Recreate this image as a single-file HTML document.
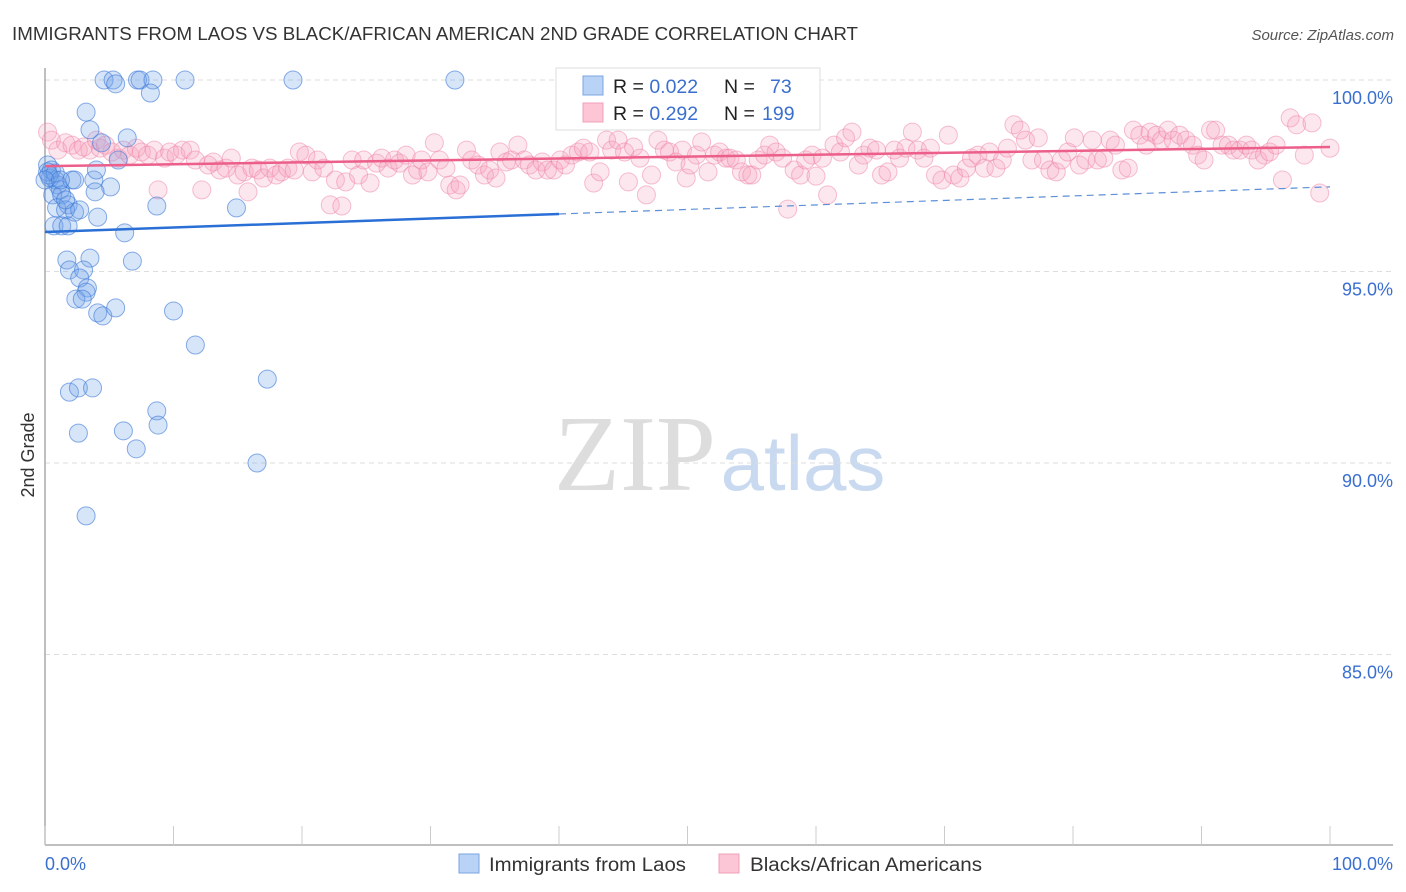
<!DOCTYPE html>
<html><head><meta charset="utf-8"><style>
body{margin:0;background:#fff;font-family:"Liberation Sans",sans-serif;}
svg{display:block}
</style></head><body>
<svg width="1406" height="892" viewBox="0 0 1406 892">
<text x="12" y="40" font-size="18" fill="#333" textLength="846" lengthAdjust="spacingAndGlyphs">IMMIGRANTS FROM LAOS VS BLACK/AFRICAN AMERICAN 2ND GRADE CORRELATION CHART</text>
<text x="1394" y="40" font-size="15" fill="#555" font-style="italic" text-anchor="end">Source: ZipAtlas.com</text>
<g>
<text x="635" y="490" font-size="108" font-family="Liberation Serif, serif" fill="#ddd" text-anchor="middle">ZIP</text>
<text x="803" y="490" font-size="78" fill="#c9daf0" text-anchor="middle">atlas</text>
</g>
<g id="grid"></g>
<g id="axes"></g>
<g id="marks"></g>
<text transform="translate(34,455) rotate(-90)" font-size="18" fill="#333" text-anchor="middle">2nd Grade</text>
<g>
<rect x="556" y="68" width="264" height="62" fill="#fff" stroke="#ddd"/>
<rect x="583" y="76" width="20" height="19" fill="#b8d3f5" stroke="#7aa6e0"/>
<rect x="583" y="103" width="20" height="19" fill="#fcc6d6" stroke="#f0a0b8"/>
<text x="613" y="93" font-size="19.5" fill="#222">R = <tspan fill="#3a6fd0">0.022</tspan><tspan x="724">N = </tspan><tspan x="770" fill="#3a6fd0">73</tspan></text>
<text x="613" y="120" font-size="19.5" fill="#222">R = <tspan fill="#3a6fd0">0.292</tspan><tspan x="724">N = </tspan><tspan x="762" fill="#3a6fd0">199</tspan></text>
</g>
<g>
<rect x="459" y="854" width="20" height="19" fill="#b8d3f5" stroke="#7aa6e0"/>
<text x="489" y="871" font-size="19" fill="#333" textLength="197" lengthAdjust="spacingAndGlyphs">Immigrants from Laos</text>
<rect x="719" y="854" width="20" height="19" fill="#fcc6d6" stroke="#f0a0b8"/>
<text x="750" y="871" font-size="19" fill="#333" textLength="232" lengthAdjust="spacingAndGlyphs">Blacks/African Americans</text>
</g>
</svg>
<script>
const yTicks=[100,95,90,85];
const yTickLabels=["100.0%","95.0%","90.0%","85.0%"];
const xTicks=[0,10,20,30,40,50,60,70,80,90,100];
const xEndLabels=["0.0%","100.0%"];
const blueTrend=[96.03,97.21];
const pinkTrend=[97.75,98.25];
const bluePoints=[[4.6,100],[5.3,100],[5.5,99.9],[7.2,100],[7.4,100],[8.4,100],[8.2,99.66],[10.9,100],[19.3,100],[31.9,100],[3.2,99.16],[3.5,98.7],[6.4,98.49],[4.4,98.36],[5.7,97.91],[0.2,97.78],[0.5,97.65],[0.4,97.44],[0.8,97.39],[1.0,97.26],[1.2,97.13],[2.1,97.39],[2.3,97.39],[3.8,97.39],[5.1,97.21],[4.0,97.65],[0.6,97.0],[1.3,97.0],[1.8,96.74],[0.9,96.66],[1.6,96.61],[2.3,96.55],[4.1,96.42],[8.7,96.71],[14.9,96.66],[0.7,96.19],[1.3,96.19],[1.8,96.19],[6.2,96.01],[1.7,95.3],[3.5,95.35],[6.8,95.27],[1.9,95.04],[3.0,95.04],[2.7,94.83],[3.3,94.57],[3.2,94.46],[2.4,94.28],[2.9,94.28],[4.1,93.92],[4.5,93.84],[5.5,94.05],[10.0,93.97],[11.7,93.08],[1.9,91.85],[2.6,91.96],[3.7,91.96],[17.3,92.19],[2.6,90.78],[6.1,90.84],[8.7,91.36],[8.8,90.99],[7.1,90.37],[16.5,90.0],[3.2,88.62],[0.2,97.6],[0.3,97.52],[0.8,97.57],[0.0,97.39],[1.2,97.39],[1.6,96.87],[3.9,97.08],[2.7,96.61]];
const pinkX=[0.2,0.5,1.0,1.6,2.1,2.6,3.0,3.5,4.0,4.3,4.7,5.2,5.7,6.1,6.6,7.1,7.5,8.0,8.5,8.8,9.3,9.7,10.2,10.7,11.3,11.7,12.2,12.7,13.1,13.6,14.1,14.5,15.0,15.5,15.8,16.1,16.6,17.0,17.5,18.0,18.4,18.9,19.4,19.8,20.3,20.8,21.2,21.7,22.2,22.6,23.1,23.4,23.9,24.4,24.8,25.3,25.8,26.2,26.7,27.2,27.6,28.1,28.6,29.0,29.3,29.8,30.3,30.7,31.2,31.5,32.0,32.3,32.8,33.2,33.7,34.2,34.6,35.1,35.4,35.9,36.3,36.8,37.3,37.7,38.2,38.7,39.1,39.6,40.1,40.5,41.0,41.5,41.9,42.4,42.7,43.2,43.7,44.1,44.6,45.1,45.4,45.8,46.3,46.8,47.2,47.7,48.2,48.6,49.1,49.6,49.9,50.2,50.7,51.1,51.6,52.1,52.5,53.0,53.3,53.8,54.2,54.7,55.0,55.5,56.0,56.4,56.9,57.4,57.8,58.3,58.8,59.2,59.7,60.0,60.5,60.9,61.4,61.9,62.3,62.8,63.3,63.7,64.2,64.7,65.1,65.6,66.1,66.5,67.0,67.5,67.9,68.4,68.9,69.3,69.8,70.3,70.7,71.2,71.7,72.1,72.6,73.1,73.5,74.0,74.5,74.9,75.4,75.9,76.3,76.8,77.3,77.7,78.2,78.7,79.1,79.6,80.1,80.5,81.0,81.5,81.9,82.4,82.9,83.3,83.8,84.3,84.7,85.2,85.7,86.0,86.5,86.9,87.4,87.8,88.3,88.8,89.3,89.7,90.2,90.7,91.1,91.6,92.1,92.5,93.0,93.5,93.9,94.4,94.9,95.3,95.8,96.3,96.9,97.4,98.0,98.6,99.2,100];
const pinkY=[98.64,98.43,98.17,98.36,98.3,98.17,98.25,98.17,98.43,98.22,98.3,98.12,97.96,98.17,98.04,98.22,98.12,98.04,98.17,97.13,97.96,98.12,98.04,98.17,98.17,97.91,97.13,97.78,97.86,97.65,97.7,97.96,97.52,97.6,97.08,97.7,97.65,97.44,97.7,97.52,97.6,97.7,97.65,98.12,98.04,97.6,97.91,97.7,96.74,97.39,96.71,97.34,97.91,97.52,97.91,97.31,97.83,97.96,97.7,97.91,97.83,98.04,97.52,97.65,97.91,97.6,98.36,97.91,97.7,97.26,97.13,97.26,98.17,97.91,97.78,97.52,97.65,97.44,98.12,97.86,97.91,98.3,97.91,97.78,97.65,97.86,97.65,97.65,97.91,97.78,98.04,98.12,98.22,98.12,97.31,97.6,98.43,98.17,98.43,98.12,97.34,98.25,97.96,97.0,97.52,98.43,98.17,98.12,97.86,98.17,97.44,97.78,98.04,98.38,97.6,98.04,98.12,97.96,97.96,97.91,97.6,97.52,97.52,97.91,98.04,98.3,98.12,97.96,96.63,97.65,97.52,97.91,98.04,97.49,97.96,97.0,98.3,98.12,98.49,98.64,97.78,98.04,98.22,98.17,97.52,97.6,98.17,97.96,98.22,98.64,98.17,97.96,98.22,97.52,97.39,98.56,97.52,97.44,97.7,97.96,98.04,97.7,98.12,97.7,97.91,98.22,98.83,98.69,98.43,97.91,98.49,97.91,97.65,97.6,97.91,98.12,98.49,97.78,97.91,98.43,97.91,97.96,98.43,98.3,97.65,97.7,98.69,98.56,98.3,98.64,98.56,98.43,98.69,98.43,98.56,98.43,98.3,98.04,97.91,98.69,98.69,98.3,98.3,98.17,98.17,98.3,98.17,97.91,98.04,98.12,98.3,97.39,99.01,98.83,98.04,98.88,97.05,98.22];

const NS='http://www.w3.org/2000/svg';
const X0=45,X1=1330,YTOP=80,PXPER=38.3,YBOT=845;
function sx(v){return X0+(X1-X0)*v/100;}
function sy(v){return YTOP+(100-v)*PXPER;}
function mk(tag,attrs,parent){const e=document.createElementNS(NS,tag);for(const k in attrs)e.setAttribute(k,attrs[k]);parent.appendChild(e);return e;}
const grid=document.getElementById('grid'),axes=document.getElementById('axes'),marks=document.getElementById('marks');
yTicks.forEach((t,i)=>{
  const l=mk('line',{x1:X0,x2:1393,y1:sy(t),y2:sy(t),stroke:'#ddd','stroke-dasharray':'5,4'},grid);
  
  
  const tx=mk('text',{x:1393,y:sy(t)+24,'font-size':18,fill:'#3a6fd0','text-anchor':'end'},axes);
  tx.textContent=yTickLabels[i];
  
  
});
const ya=mk('line',{x1:X0,x2:X0,y1:68,y2:YBOT,stroke:'#aaa','stroke-width':1.5},axes);


const xa=mk('line',{x1:X0,x2:1393,y1:YBOT,y2:YBOT,stroke:'#aaa','stroke-width':1.5},axes);


xTicks.forEach(t=>{
  const l=mk('line',{x1:sx(t),x2:sx(t),y1:826,y2:YBOT,stroke:'#ccc'},axes);
  
  
});
const xl0=mk('text',{x:X0,y:870,'font-size':18,fill:'#3a6fd0'},axes);xl0.textContent=xEndLabels[0];


const xl1=mk('text',{x:1393,y:870,'font-size':18,fill:'#3a6fd0','text-anchor':'end'},axes);xl1.textContent=xEndLabels[1];



pinkX.forEach((x,i)=>{
  const c=mk('circle',{cx:sx(x),cy:sy(pinkY[i]),r:9,fill:'rgba(248,160,188,0.25)',stroke:'rgba(238,130,165,0.5)','stroke-width':1},marks);
  
  
});
bluePoints.forEach(p=>{
  const c=mk('circle',{cx:sx(p[0]),cy:sy(p[1]),r:9,fill:'rgba(110,160,235,0.28)',stroke:'rgba(60,120,215,0.6)','stroke-width':1},marks);
  
  
});
function trendY(tr,x){return tr[0]+(tr[1]-tr[0])*x/100;}
const pl=mk('line',{x1:sx(0),y1:sy(trendY(pinkTrend,0)),x2:sx(100),y2:sy(trendY(pinkTrend,100)),stroke:'#ec5f8a','stroke-width':2.5},marks);


const bl=mk('line',{x1:sx(0),y1:sy(trendY(blueTrend,0)),x2:sx(40),y2:sy(trendY(blueTrend,40)),stroke:'#2a6fd6','stroke-width':2.5},marks);


const bd=mk('line',{x1:sx(40),y1:sy(trendY(blueTrend,40)),x2:sx(100),y2:sy(trendY(blueTrend,100)),stroke:'#5b8fd9','stroke-width':1.2,'stroke-dasharray':'7,5'},marks);


</script>
</body></html>
